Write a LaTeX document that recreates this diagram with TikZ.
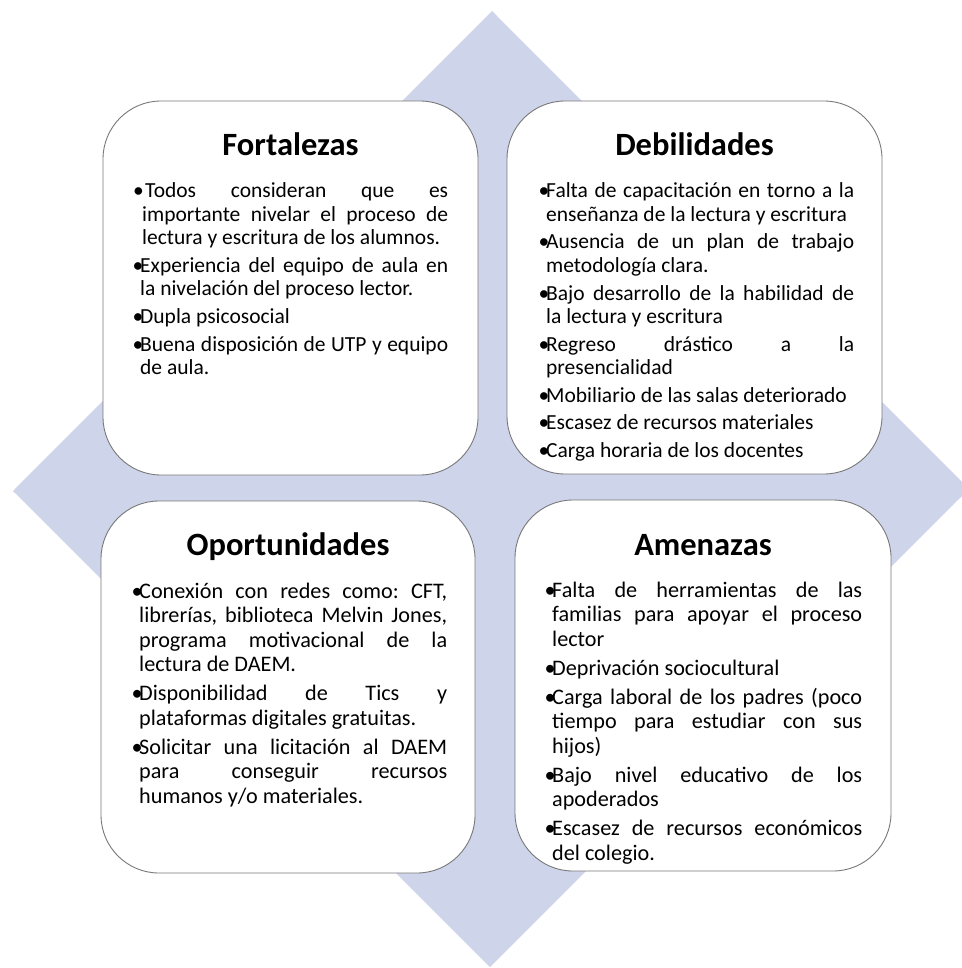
\documentclass[tikz,border=0pt]{standalone}
\usepackage{fontspec}
\setmainfont{Carlito}
\frenchspacing
\definecolor{diamc}{RGB}{206,212,233}
\definecolor{boxline}{RGB}{120,120,120}
\newcommand{\bitem}[1]{\par\hangindent=7pt\hangafter=1\noindent\makebox[7pt][l]{\hspace{-0.5pt}•}#1}
\newcommand{\fstrut}{\rule{0pt}{20pt}}
\newcommand{\smallsetup}{\fontsize{21.5}{23.4}\selectfont\frenchspacing\parskip=4.3pt\relax\hyphenpenalty=10000\relax\tolerance=10000\relax}
\newcommand{\largesetup}{\fontsize{22.2}{24.5}\selectfont\frenchspacing\parskip=4.5pt\relax\hyphenpenalty=10000\relax\tolerance=10000\relax}
\tikzset{
  x=1pt, y=-1pt,
  diamond bg/.style={fill=diamc, draw=none},
  swotbox/.style={draw=boxline, line width=0.9pt, fill=white, rounded corners=58pt, inner sep=0pt},
  swottitle/.style={anchor=base, inner sep=0pt, font=\fontsize{32.5}{36}\selectfont\bfseries},
  swottext/.style={anchor=north west, inner sep=0pt, text width=#1, align=justify}
}
\begin{document}
\begin{tikzpicture}
\useasboundingbox (0,0) rectangle (961,968);
\fill[diamond bg] (492,11) -- (969,489) -- (490,967) -- (13,491) -- cycle;

\node[swotbox, minimum width=375pt, minimum height=374pt] (fbox) at (290.5,288) {};
\node[swotbox, minimum width=375pt, minimum height=373pt] (dbox) at (694.5,287.5) {};
\node[swotbox, minimum width=374pt, minimum height=372pt] (obox) at (288,687) {};
\node[swotbox, minimum width=376pt, minimum height=371pt] (abox) at (703,685.5) {};

\node[swottitle] (ftitle) at (290.5,156) {Fortalezas};
\node[swottitle] (dtitle) at (694.5,156) {Debilidades};
\node[swottitle] (otitle) at (288,555) {Oportunidades};
\node[swottitle] (atitle) at (703,555) {Amenazas};

\node[swottext=315pt] (ftext) at (133,170) {\smallsetup
\par\hangindent=9pt\hangafter=1\noindent\fstrut\makebox[12pt][l]{•}Todos consideran que es\linebreak importante nivelar el proceso de\linebreak lectura y escritura de los alumnos.
\bitem{Experiencia del equipo de aula en\linebreak la nivelación del proceso lector.}
\bitem{Dupla psicosocial}
\bitem{Buena disposición de UTP y equipo\linebreak de aula.}\par};

\node[swottext=315pt] (dtext) at (539,170) {\smallsetup
\bitem{\fstrut Falta de capacitación en torno a la\linebreak enseñanza de la lectura y escritura}
\bitem{Ausencia de un plan de trabajo\linebreak metodología clara.}
\bitem{Bajo desarrollo de la habilidad de\linebreak la lectura y escritura}
\bitem{Regreso drástico a la\linebreak presencialidad}
\bitem{Mobiliario de las salas deteriorado}
\bitem{Escasez de recursos materiales}
\bitem{Carga horaria de los docentes}\par};

\node[swottext=315pt] (otext) at (132,569) {\largesetup
\bitem{\fstrut Conexión con redes como: CFT,\linebreak librerías, biblioteca Melvin Jones,\linebreak programa motivacional de la\linebreak lectura de DAEM.}
\bitem{Disponibilidad de Tics y\linebreak plataformas digitales gratuitas.}
\bitem{Solicitar una licitación al DAEM\linebreak para conseguir recursos\linebreak humanos y/o materiales.}\par};

\node[swottext=317pt] (atext) at (545,568) {\largesetup
\bitem{\fstrut Falta de herramientas de las\linebreak familias para apoyar el proceso\linebreak lector}
\bitem{Deprivación sociocultural}
\bitem{Carga laboral de los padres (poco\linebreak tiempo para estudiar con sus\linebreak hijos)}
\bitem{Bajo nivel educativo de los\linebreak apoderados}
\bitem{Escasez de recursos económicos\linebreak del colegio.}\par};
\end{tikzpicture}
\end{document}
